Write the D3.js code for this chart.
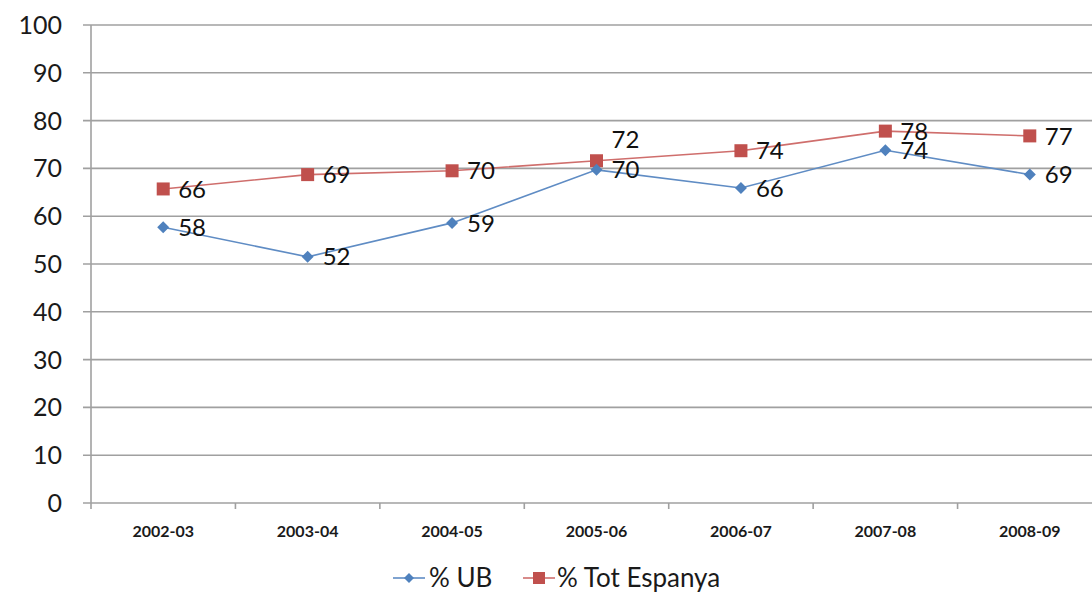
<!DOCTYPE html>
<html><head><meta charset="utf-8">
<script src="https://cdn.jsdelivr.net/npm/d3@7"></script>
<style>body{margin:0;background:#fff}svg{display:block}</style>
</head><body>
<svg id="c" width="1092" height="593"></svg>
<script>
const categories = ["2002-03","2003-04","2004-05","2005-06","2006-07","2007-08","2008-09"];
const ubValues = [57.7, 51.5, 58.6, 69.7, 65.9, 73.8, 68.7];
const ubLabels = ["58","52","59","70","66","74","69"];
const espValues = [65.7, 68.7, 69.5, 71.6, 73.7, 77.8, 76.8];
const espLabels = ["66","69","70","72","74","78","77"];
const yTicks = [0,10,20,30,40,50,60,70,80,90,100];
const seriesNames = ["% UB","% Tot Espanya"];

(function(){
const svg = d3.select("#c");
const pLeft = 91, pRight = 1102, pTop = 25, pBottom = 503;
const x = d3.scaleBand().domain(categories).range([pLeft, pRight]);
const y = d3.scaleLinear().domain([0,100]).range([pBottom, pTop]);
const font = "Lato, 'Open Sans', sans-serif";
const grid = "#a0a0a0";

svg.append("g").selectAll("line").data(yTicks).join("line")
  .attr("x1", pLeft-8).attr("x2", 1092)
  .attr("y1", d=>y(d)).attr("y2", d=>y(d))
  .attr("stroke", grid).attr("stroke-width", 1.6);
svg.append("line").attr("x1", pLeft).attr("x2", pLeft).attr("y1", pTop).attr("y2", pBottom+6)
  .attr("stroke", grid).attr("stroke-width", 1.6);
svg.append("g").selectAll("line").data(categories.slice(1)).join("line")
  .attr("x1", d=>x(d)).attr("x2", d=>x(d)).attr("y1", pBottom).attr("y2", pBottom+6)
  .attr("stroke", grid).attr("stroke-width", 1.6);
svg.append("g").selectAll("text").data(yTicks).join("text")
  .attr("x", 62).attr("y", d=>y(d)).attr("dy","0.36em")
  .attr("text-anchor","end").attr("font-family", font).attr("font-size", 25)
  .attr("fill","#1a1a1a").text(d=>d);
svg.append("g").selectAll("text").data(categories).join("text")
  .attr("x", d=>x(d)+x.bandwidth()/2).attr("y", 537)
  .attr("text-anchor","middle").attr("font-family", font).attr("font-size", 16)
  .attr("font-weight","bold").attr("fill","#1a1a1a").text(d=>d);

const cx = i => x(categories[i]) + x.bandwidth()/2;
const line = d3.line().x((d,i)=>cx(i)).y(d=>y(d));

svg.append("path").datum(espValues).attr("d", line).attr("fill","none")
  .attr("stroke","#cf6e6c").attr("stroke-width",1.6);
svg.append("g").selectAll("rect").data(espValues).join("rect")
  .attr("x",(d,i)=>cx(i)-6.5).attr("y",d=>y(d)-6.5).attr("width",13).attr("height",13)
  .attr("fill","#c0504d");
svg.append("path").datum(ubValues).attr("d", line).attr("fill","none")
  .attr("stroke","#5f8cc4").attr("stroke-width",1.6);
svg.append("g").selectAll("path.m").data(ubValues).join("path")
  .attr("transform",(d,i)=>`translate(${cx(i)},${y(d)})`)
  .attr("d","M0,-6L6,0L0,6L-6,0Z").attr("fill","#4f81bd");

const lab = (vals, labels, dyFn) => svg.append("g").selectAll("text").data(vals).join("text")
  .attr("x",(d,i)=>cx(i)+15).attr("y",(d,i)=>y(d)+dyFn(i)).attr("dy","0.36em")
  .attr("font-family", font).attr("font-size", 24).attr("fill","#111")
  .text((d,i)=>labels[i]);
lab(ubValues, ubLabels, i=>0);
lab(espValues, espLabels, i=> i===3 ? -21 : 0);

const lg = svg.append("g");
lg.append("line").attr("x1",393).attr("x2",425).attr("y1",578).attr("y2",578).attr("stroke","#5f8cc4").attr("stroke-width",1.6);
lg.append("path").attr("transform","translate(409,578)").attr("d","M0,-5L5,0L0,5L-5,0Z").attr("fill","#4f81bd");
lg.append("text").attr("x",429).attr("y",578).attr("dy","0.36em").attr("font-family",font).attr("font-size",26).attr("fill","#1a1a1a").text(seriesNames[0]);
lg.append("line").attr("x1",523).attr("x2",555).attr("y1",578).attr("y2",578).attr("stroke","#cf6e6c").attr("stroke-width",1.6);
lg.append("rect").attr("x",533).attr("y",572).attr("width",12).attr("height",12).attr("fill","#c0504d");
lg.append("text").attr("x",557).attr("y",578).attr("dy","0.36em").attr("font-family",font).attr("font-size",26).attr("fill","#1a1a1a").text(seriesNames[1]);
})();
</script>
</body></html>
